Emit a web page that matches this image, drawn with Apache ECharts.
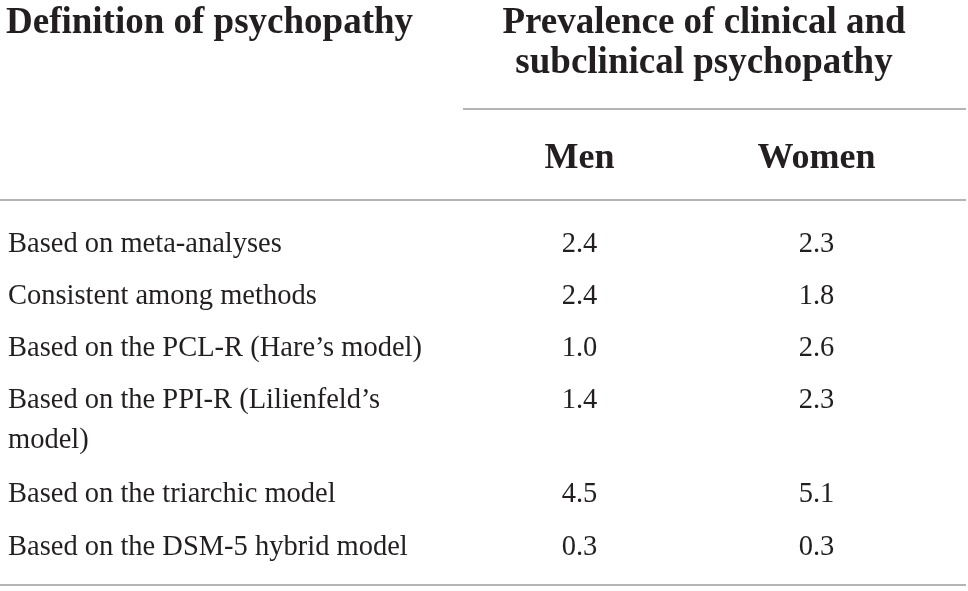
<!DOCTYPE html>
<html>
<head>
<meta charset="utf-8">
<script src="https://cdn.jsdelivr.net/npm/echarts@6/dist/echarts.min.js"></script>
<style>
  html, body { margin: 0; padding: 0; background: #fff; }
  #main { width: 968px; height: 591px; }
</style>
</head>
<body>
<div id="main"></div>
<script>
// table contents
const definitions = [
  'Based on meta-analyses',
  'Consistent among methods',
  'Based on the PCL-R (Hare\u2019s model)',
  'Based on the PPI-R (Lilienfeld\u2019s\nmodel)',
  'Based on the triarchic model',
  'Based on the DSM-5 hybrid model'
];
const groups = ['Men', 'Women'];
const men = [2.4, 2.4, 1.0, 1.4, 4.5, 0.3];
const women = [2.3, 1.8, 2.6, 2.3, 5.1, 0.3];
const colTitle = 'Definition of psychopathy';
const groupTitle = 'Prevalence of clinical and\nsubclinical psychopathy';

const ink = '#231f20';
const rule = '#b4b4b4';
const serif = 'Liberation Serif';

let chart = echarts.init(document.getElementById('main'));

// rows 0-3 sit in the upper block, the two-line row pushes 4-5 down
const blocks = [
  { from: 0, to: 4, top: 218, height: 209, showHead: true },
  { from: 4, to: 6, top: 468, height: 106, showHead: false }
];

let grid = [], xAxis = [], yAxis = [], series = [];
blocks.forEach(function (b, k) {
  let rows = definitions.slice(b.from, b.to);
  grid.push({ left: 461, width: 474, top: b.top, height: b.height });
  xAxis.push({
    type: 'category',
    gridIndex: k,
    position: 'top',
    data: groups,
    show: b.showHead,
    axisLine: { show: false },
    axisTick: { show: false },
    splitLine: { show: false },
    axisLabel: {
      margin: b.top - 159,
      verticalAlign: 'middle',
      fontFamily: serif,
      fontWeight: 'bold',
      fontSize: 36,
      color: ink
    }
  });
  yAxis.push({
    type: 'category',
    gridIndex: k,
    inverse: true,
    data: rows,
    axisLine: { show: false },
    axisTick: { show: false },
    splitLine: { show: false },
    axisLabel: {
      interval: 0,
      hideOverlap: false,
      margin: 453,
      align: 'left',
      fontFamily: serif,
      fontSize: 28.5,
      lineHeight: 40,
      color: ink,
      // keep the first line of a wrapped label on the row
      formatter: function (v) { return v.indexOf('\n') >= 0 ? '\n' + v : v; }
    }
  });
  let cells = [];
  rows.forEach(function (r, i) {
    cells.push([groups[0], r, men[b.from + i]]);
    cells.push([groups[1], r, women[b.from + i]]);
  });
  series.push({
    type: 'scatter',
    xAxisIndex: k,
    yAxisIndex: k,
    data: cells,
    symbolSize: 1,
    silent: true,
    // scatter defaults to 0.8 opacity, which would grey the labels
    itemStyle: { color: 'rgba(0,0,0,0)', opacity: 1 },
    label: {
      show: true,
      position: 'inside',
      fontFamily: serif,
      fontSize: 28.5,
      color: ink,
      opacity: 1,
      textBorderWidth: 0,
      formatter: function (p) { return p.value[2].toFixed(1); }
    }
  });
});

let option = {
  animation: false,
  backgroundColor: '#fff',
  grid: grid,
  xAxis: xAxis,
  yAxis: yAxis,
  series: series,
  graphic: [
    {
      type: 'text', x: 6, y: 3.5,
      style: { text: colTitle, fontFamily: serif, fontWeight: 'bold', fontSize: 37,
        lineHeight: 40, fill: ink, textAlign: 'left', textVerticalAlign: 'top' }
    },
    {
      type: 'text', x: 704, y: 3.5,
      style: { text: groupTitle, fontFamily: serif, fontWeight: 'bold', fontSize: 37,
        lineHeight: 40, fill: ink, textAlign: 'center', textVerticalAlign: 'top' }
    },
    { type: 'line', shape: { x1: 463, y1: 109, x2: 966, y2: 109 }, style: { stroke: rule, lineWidth: 2 } },
    { type: 'line', shape: { x1: 0, y1: 200, x2: 966, y2: 200 }, style: { stroke: rule, lineWidth: 2 } },
    { type: 'line', shape: { x1: 0, y1: 585, x2: 966, y2: 585 }, style: { stroke: rule, lineWidth: 2 } }
  ]
};

chart.setOption(option);
</script>
</body>
</html>
